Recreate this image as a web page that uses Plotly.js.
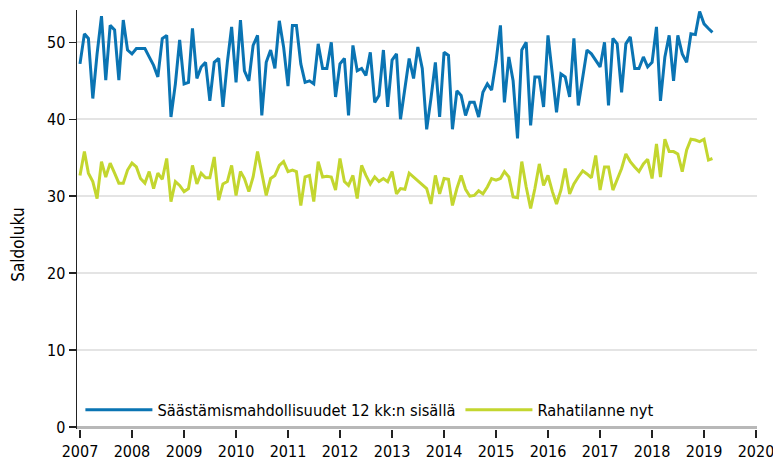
<!DOCTYPE html>
<html>
<head>
<meta charset="utf-8">
<script src="https://cdn.plot.ly/plotly-3.0.1.min.js"></script>
<style>html,body{margin:0;padding:0;background:#fff;}#chart{width:773px;height:470px;}</style>
</head>
<body>
<div id="chart"></div>
<script>
// Monthly series, starting January 2007
const startYear = 2007;
const seriesNames = ["Säästämismahdollisuudet 12 kk:n sisällä", "Rahatilanne nyt"];
const saastamis = [
47.2,51.1,50.5,42.7,48.5,53.4,45.1,52.2,51.6,45.1,52.9,49.0,
48.5,49.2,49.2,49.2,48.1,47.0,45.5,50.5,50.9,40.3,44.6,50.3,
44.6,44.8,51.8,45.3,46.8,47.4,42.4,47.4,47.9,41.6,47.4,52.0,
44.8,52.9,46.3,45.0,49.6,50.9,40.5,47.4,49.0,46.6,52.8,49.4,
44.3,52.2,52.2,47.2,44.8,45.0,44.6,49.8,46.6,46.6,50.0,42.9,
47.2,47.9,40.5,49.6,46.3,46.6,45.7,48.7,42.2,43.1,49.0,41.6,
47.7,48.5,40.0,44.0,47.9,45.3,49.4,46.6,38.7,42.7,47.4,40.3,
48.7,48.3,38.7,43.7,43.1,40.5,42.2,42.2,40.3,43.5,44.6,43.8,
47.5,52.2,42.2,48.1,45.0,37.5,49.0,50.0,39.2,45.5,45.5,41.6,
50.9,45.8,40.9,45.9,45.5,42.9,50.5,41.8,45.5,49.0,48.5,47.6,
46.8,50.0,41.8,50.5,49.8,43.5,49.8,50.7,46.6,46.6,48.1,46.8,
47.4,52.0,42.4,48.1,50.9,45.0,50.9,48.5,47.4,51.1,51.0,54.0,
52.4,51.8,51.3
];
const rahatilanne = [
32.7,35.8,33.0,31.9,29.7,34.5,32.5,34.3,33.0,31.7,31.7,33.4,
34.3,33.8,32.3,31.7,33.2,31.0,33.0,32.2,34.9,29.3,31.9,31.4,
30.6,31.0,34.0,31.6,33.0,32.4,32.4,35.1,29.5,31.6,31.9,34.0,
30.1,33.2,32.3,30.6,32.5,35.8,33.0,30.1,32.3,32.7,34.0,34.5,
33.2,33.4,33.2,28.8,32.5,32.7,29.3,34.5,32.5,32.6,32.5,30.8,
34.9,31.9,31.4,32.7,29.7,34.0,32.7,31.6,32.5,31.9,32.3,31.9,
33.2,30.3,31.0,30.9,33.0,32.5,32.1,31.6,31.0,29.0,32.7,30.3,
32.3,32.2,28.8,31.0,32.7,30.9,30.0,30.1,30.7,30.3,31.2,32.3,
32.1,32.3,33.2,32.5,29.9,29.8,34.5,31.2,28.4,31.0,34.2,31.4,
32.7,30.6,29.0,30.8,33.6,30.3,31.6,32.5,33.3,32.9,32.4,35.3,
30.8,33.8,33.8,30.8,32.1,33.6,35.5,34.5,33.8,33.2,34.2,34.8,
32.3,36.8,32.5,37.4,35.8,35.8,35.5,33.2,36.0,37.4,37.3,37.1,
37.4,34.7,34.9
];
const yearTicks = [2007,2008,2009,2010,2011,2012,2013,2014,2015,2016,2017,2018,2019,2020];
const yTicks = [0,10,20,30,40,50];
const colors = ["#0a74b3", "#c3d62f"];

function monthDate(i){
  const y = startYear + Math.floor(i/12);
  const m = (i % 12) + 1;
  return y + "-" + (m < 10 ? "0" + m : m) + "-01";
}
const dates = saastamis.map((_, i) => monthDate(i));

const FONT = "'Liberation Sans Narrow', 'Arial Narrow', 'DejaVu Sans Condensed', sans-serif";

const traces = [
  {x: dates, y: saastamis, name: seriesNames[0], type: "scatter", mode: "lines",
   line: {color: colors[0], width: 3}},
  {x: dates, y: rahatilanne, name: seriesNames[1], type: "scatter", mode: "lines",
   line: {color: colors[1], width: 3}}
];

const layout = {
  width: 773, height: 470,
  margin: {l: 77, r: 16, t: 10, b: 41},
  paper_bgcolor: "#fff", plot_bgcolor: "#fff",
  showlegend: true,
  legend: {orientation: "h", x: 0.005, y: 0.003, xanchor: "left", yanchor: "bottom",
           font: {family: FONT, size: 16.3, color: "#000"}, itemwidth: 67,
           bgcolor: "rgba(0,0,0,0)", traceorder: "normal"},
  xaxis: {type: "date", range: ["2006-12-11", "2020-01-08"],
          tickvals: yearTicks.map(y => y + "-01-01"), ticktext: yearTicks.map(String),
          ticks: "outside", ticklen: 8, tickwidth: 1.5, tickcolor: "#222",
          ticklabeloverflow: "allow",
          showgrid: false, showline: false, zeroline: false,
          tickfont: {family: FONT, size: 16, color: "#000"}},
  yaxis: {range: [-0.25, 54.2], tickvals: yTicks, ticktext: yTicks.map(String),
          ticks: "outside", ticklen: 7, tickwidth: 1.5, tickcolor: "#222",
          showline: true, linecolor: "#222", linewidth: 1.5,
          showgrid: true, gridcolor: "#e4e4e4", gridwidth: 2,
          zeroline: true, zerolinecolor: "#b8b8b8", zerolinewidth: 3,
          tickfont: {family: FONT, size: 16, color: "#000"}},
  annotations: [{text: "Saldoluku", xref: "paper", yref: "paper", x: -0.088, y: 0.44,
                 xanchor: "center", yanchor: "middle", textangle: -90, showarrow: false,
                 font: {family: FONT, size: 17, color: "#000"}}]
};

Plotly.newPlot("chart", traces, layout, {displayModeBar: false, staticPlot: true});
</script>
</body>
</html>
